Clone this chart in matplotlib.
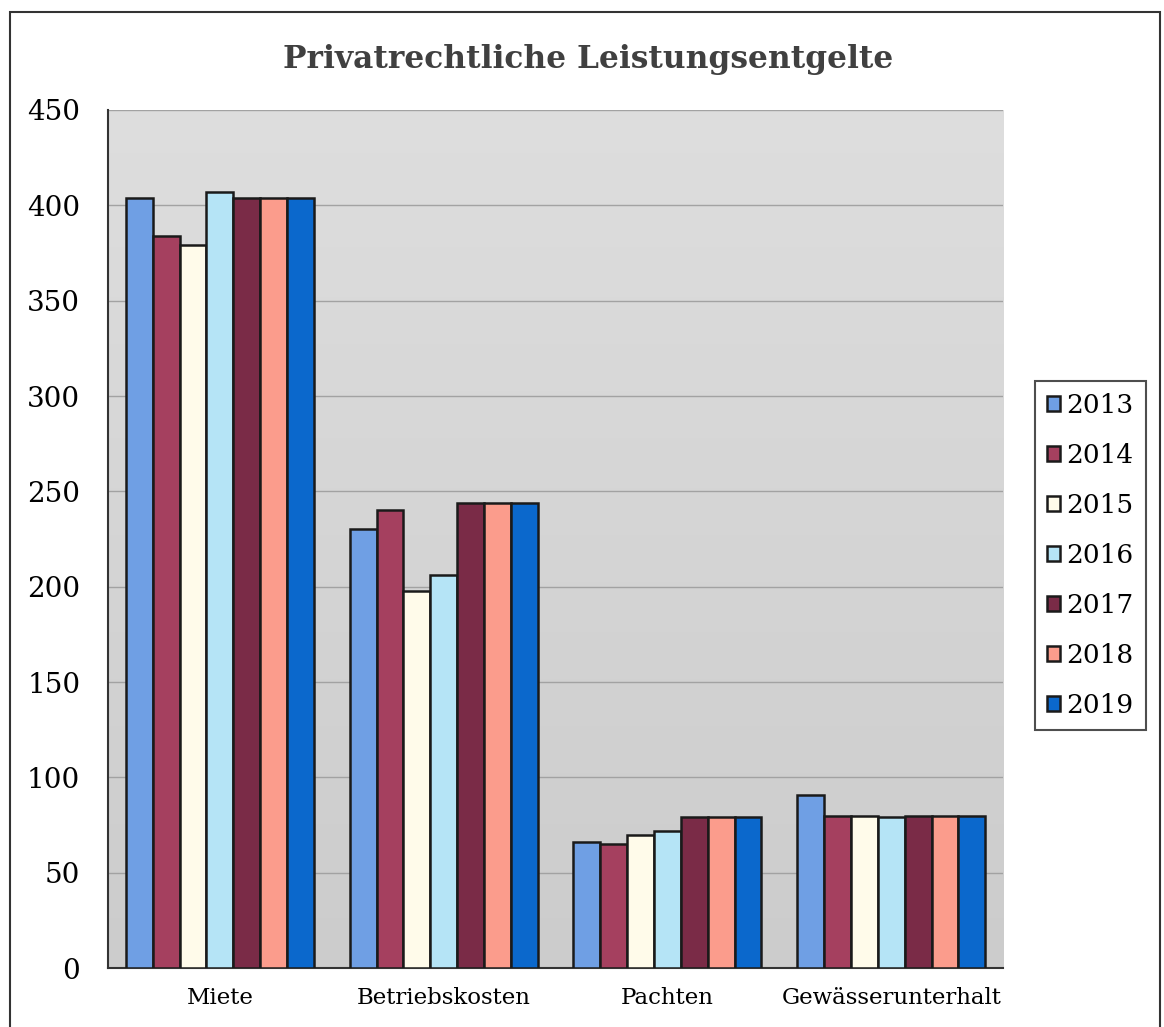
import numpy as np
import matplotlib.pyplot as plt
from matplotlib.patches import Rectangle

# Daten
kategorien = ["Miete", "Betriebskosten", "Pachten", "Gewässerunterhalt"]
jahre = ["2013", "2014", "2015", "2016", "2017", "2018", "2019"]
werte_2013 = [404, 230, 66, 91]
werte_2014 = [384, 240, 65, 80]
werte_2015 = [379, 198, 70, 80]
werte_2016 = [407, 206, 72, 79]
werte_2017 = [404, 244, 79, 80]
werte_2018 = [404, 244, 79, 80]
werte_2019 = [404, 244, 79, 80]
serien = [werte_2013, werte_2014, werte_2015, werte_2016, werte_2017, werte_2018, werte_2019]
farben = ["#6f9fe4", "#a5405f", "#fffbea", "#b5e4f6", "#7a2b47", "#fb9c8c", "#0b68cc"]

plt.rcParams['font.family'] = ['DejaVu Serif']

fig = plt.figure(figsize=(11.64, 10.27), dpi=100)
ax = fig.add_axes([0.0928, 0.0574, 0.769, 0.8355])

# Hintergrund mit leichtem Verlauf (oben heller, unten etwas dunkler)
t = np.linspace(0, 1, 256).reshape(-1, 1, 1)
oben = np.array([0.87, 0.87, 0.87])
unten = np.array([0.80, 0.80, 0.80])
grad = oben * (1 - t) + unten * t
ax.imshow(grad, extent=[0, 1, 0, 1], transform=ax.transAxes,
          aspect="auto", zorder=0, origin="upper")

x = np.arange(len(kategorien))
breite = 0.12
for i, (werte, farbe, jahr) in enumerate(zip(serien, farben, jahre)):
    ax.bar(x + (i - 3) * breite, werte, breite, color=farbe, edgecolor="#1a1a1a",
           linewidth=1.8, label=jahr, zorder=3)

ax.set_xlim(-0.5, 3.5)
ax.set_ylim(0, 450)
ax.set_yticks(range(0, 451, 50))
ax.set_xticks(x)
ax.set_xticklabels(kategorien, fontsize=16.5)
ax.tick_params(axis="y", labelsize=20, pad=20, length=0)
ax.tick_params(axis="x", length=0, pad=14)
ax.yaxis.grid(True, color="#a2a2a2", linewidth=1.0, zorder=1)
ax.set_axisbelow(True)
for s in ["top", "right"]:
    ax.spines[s].set_visible(False)
ax.spines["left"].set_color("#333333")
ax.spines["bottom"].set_color("#333333")
ax.spines["left"].set_linewidth(1.5)
ax.spines["bottom"].set_linewidth(1.5)

fig.text(0.505, 0.942, "Privatrechtliche Leistungsentgelte", ha="center", va="center",
         fontsize=22.5, fontweight="bold", color="#404040")

leg = fig.legend(loc="center left", bbox_to_anchor=(0.889, 0.459), fontsize=19,
                 frameon=True, fancybox=False, edgecolor="#222222", labelspacing=0.95,
                 handlelength=0.5, handleheight=0.5, handletextpad=0.25, borderpad=0.45,
                 borderaxespad=0)
leg.get_frame().set_linewidth(1.5)

# Rahmen um die Grafik
fig.patches.append(Rectangle((0.0086, -0.05), 0.9880, 1.038, transform=fig.transFigure,
                             fill=False, edgecolor="#333333", linewidth=1.5))

plt.savefig("out.png", dpi=100)
